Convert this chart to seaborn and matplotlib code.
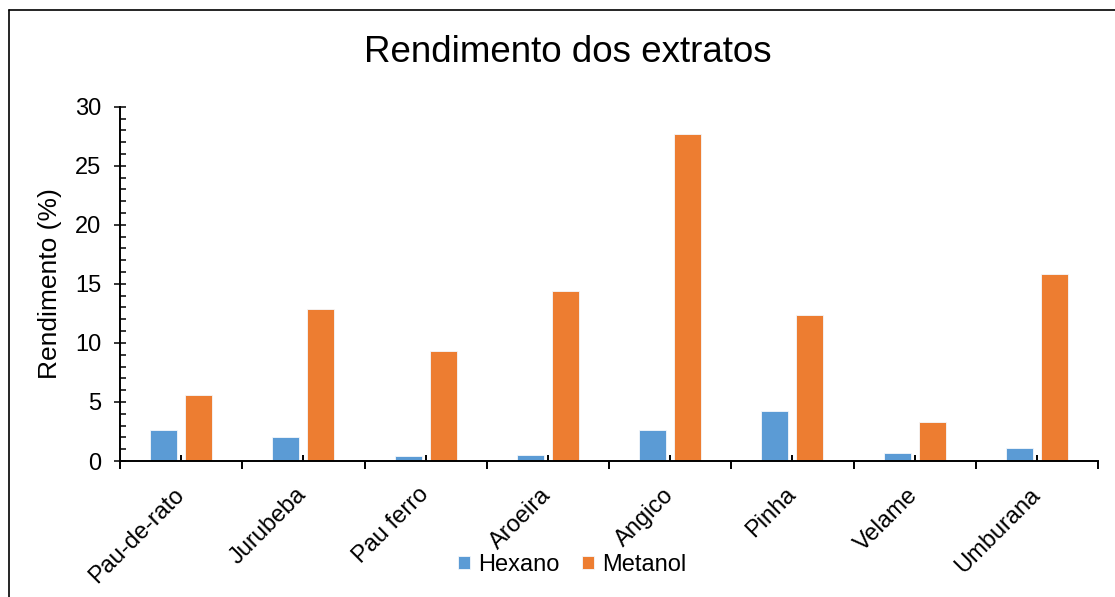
import numpy as np
import pandas as pd
import matplotlib
matplotlib.use("Agg")
import matplotlib.pyplot as plt
from matplotlib.lines import Line2D
from matplotlib.ticker import MultipleLocator
import seaborn as sns

# Extract yields (%) per plant species and solvent
especies = ["Pau-de-rato", "Jurubeba", "Pau ferro", "Aroeira",
            "Angico", "Pinha", "Velame", "Umburana"]
hexano = [2.6, 2.0, 0.45, 0.55, 2.6, 4.2, 0.7, 1.1]
metanol = [5.6, 12.9, 9.3, 14.4, 27.7, 12.4, 3.3, 15.8]
solventes = ["Hexano", "Metanol"]
cores = ["#5B9BD5", "#ED7D31"]
y_ticks = [0, 5, 10, 15, 20, 25, 30]

sns.set_theme(style="white")
plt.rcParams["font.family"] = ["Liberation Sans", "DejaVu Sans"]

df = pd.DataFrame({
    "Espécie": especies * 2,
    "Solvente": [solventes[0]] * len(especies) + [solventes[1]] * len(especies),
    "Rendimento": hexano + metanol,
})

W, H = 1115, 597
fig = plt.figure(figsize=(W / 100, H / 100), dpi=100)
ax = fig.add_axes([120 / W, 1 - 461 / H, (1098 - 120) / W, (461 - 106.7) / H])

sns.barplot(data=df, x="Espécie", y="Rendimento", hue="Solvente",
            order=especies, hue_order=solventes, palette=cores, saturation=1,
            width=0.573, gap=0.23, edgecolor="#F4F8FC", linewidth=0.6,
            errorbar=None, ax=ax, legend=True)

ax.set_xlim(-0.5, len(especies) - 0.5)
ax.set_ylim(0, 30)

# y axis: crossing major ticks, inner minor ticks
ax.set_yticks(y_ticks)
ax.set_yticklabels([str(t) for t in y_ticks], fontsize=17, color="black")
ax.yaxis.set_minor_locator(MultipleLocator(1))
ax.tick_params(axis="y", which="major", direction="inout", length=9,
               width=1.1, color="black", pad=9, left=True)
ax.tick_params(axis="y", which="minor", direction="in", length=4,
               width=1.1, color="black", left=True)

# x axis: boundary ticks outside, labelled centre ticks inside
bounds = np.arange(len(especies) + 1) - 0.5
centers = np.arange(len(especies))
ax.set_xticks(bounds)
ax.set_xticklabels([])
ax.set_xticks(centers, minor=True)
ax.set_xticklabels(especies, minor=True, fontsize=17, rotation=45,
                   ha="right", va="center", rotation_mode="anchor",
                   color="black")
ax.tick_params(axis="x", which="major", direction="out", length=6,
               width=1.4, color="black", bottom=True)
ax.tick_params(axis="x", which="minor", direction="in", length=4,
               width=1.4, color="black", pad=22, bottom=True)

for side in ["top", "right"]:
    ax.spines[side].set_visible(False)
for side in ["left", "bottom"]:
    ax.spines[side].set_color("black")
    ax.spines[side].set_linewidth(1.4)
ax.grid(False)
ax.set_xlabel("")
ax.set_ylabel("")

fig.text(50 / W, 1 - 284 / H, "Rendimento (%)", rotation=90,
         ha="center", va="center", fontsize=19, color="black")
fig.text(568 / W, 1 - 52 / H, "Rendimento dos extratos",
         ha="center", va="center", fontsize=26.5, color="black")

handles, labels = ax.get_legend_handles_labels()
ax.legend_.remove()
fig.legend(handles, labels, loc="center", bbox_to_anchor=(572 / W, 1 - 565 / H),
           ncol=2, frameon=False, fontsize=17, handlelength=0.5,
           handleheight=0.5, handletextpad=0.35, columnspacing=0.95,
           borderaxespad=0, labelcolor="black")

# chart area border (left and top edges)
fig.add_artist(Line2D([8.5 / W, 8.5 / W], [0, 1 - 10 / H], transform=fig.transFigure,
                      color="black", linewidth=1.2))
fig.add_artist(Line2D([8.5 / W, 1], [1 - 10 / H, 1 - 10 / H], transform=fig.transFigure,
                      color="black", linewidth=1.2))

fig.savefig("out.png", dpi=100, facecolor="white")
